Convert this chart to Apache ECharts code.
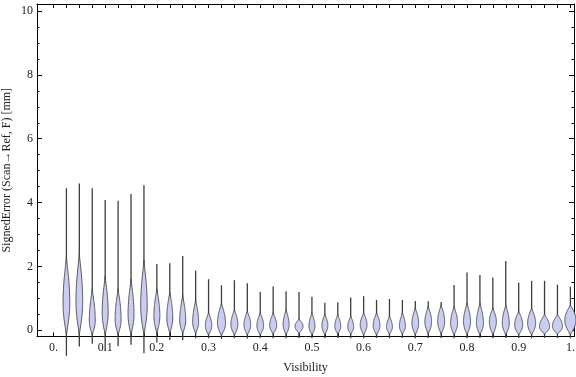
<!DOCTYPE html>
<html>
<head>
<meta charset="utf-8">
<script src="https://cdn.jsdelivr.net/npm/echarts@6/dist/echarts.min.js"></script>
<style>html,body{margin:0;padding:0;background:#fff;}#chart{width:576px;height:377px;}</style>
</head>
<body>
<div id="chart"></div>
<script>
// Violin positions (Visibility)
const positions = [0.025,0.05,0.075,0.1,0.125,0.15,0.175,0.2,0.225,0.25,0.275,0.3,0.325,0.35,0.375,0.4,0.425,0.45,0.475,0.5,0.525,0.55,0.575,0.6,0.625,0.65,0.675,0.7,0.725,0.75,0.775,0.8,0.825,0.85,0.875,0.9,0.925,0.95,0.975,1.0];
// Max / min of each distribution (tail ends)
const maxVals = [4.45,4.6,4.45,4.08,4.06,4.27,4.54,2.08,2.1,2.33,1.87,1.6,1.41,1.57,1.47,1.2,1.37,1.22,1.2,1.05,0.86,0.88,1.03,1.07,0.95,0.98,0.95,0.92,0.91,0.89,1.42,1.81,1.73,1.65,2.17,1.49,1.55,1.55,1.43,1.37];
const minVals = [-0.8,-0.51,-0.42,-0.65,-0.5,-0.45,-0.72,-0.38,-0.3,-0.3,-0.25,-0.25,-0.27,-0.25,-0.26,-0.24,-0.25,-0.25,-0.24,-0.25,-0.25,-0.24,-0.25,-0.25,-0.24,-0.25,-0.24,-0.25,-0.24,-0.24,-0.25,-0.25,-0.24,-0.25,-0.24,-0.24,-0.25,-0.24,-0.24,-0.25];
// Density body: lower end, mode, upper end, relative peak width
const bodyLo = [-0.15,-0.15,-0.15,-0.15,-0.15,-0.15,-0.15,-0.1,-0.1,-0.1,-0.1,-0.15,-0.17,-0.15,-0.15,-0.15,-0.12,-0.15,-0.1,-0.15,-0.15,-0.12,-0.12,-0.15,-0.15,-0.12,-0.12,-0.15,-0.12,-0.12,-0.15,-0.15,-0.15,-0.15,-0.15,-0.15,-0.15,-0.12,-0.12,-0.15];
const modeVals = [0.85,0.9,0.3,0.55,0.35,0.5,0.75,0.45,0.4,0.3,0.25,0.15,0.22,0.18,0.17,0.14,0.15,0.17,0.13,0.13,0.15,0.12,0.1,0.17,0.15,0.1,0.13,0.22,0.27,0.27,0.22,0.27,0.22,0.27,0.22,0.17,0.22,0.11,0.12,0.32];
const bodyHi = [2.3,2.4,1.3,1.7,1.3,1.6,2.2,1.3,1.2,1.1,0.95,0.55,0.85,0.65,0.6,0.55,0.55,0.65,0.35,0.55,0.5,0.5,0.45,0.55,0.55,0.45,0.55,0.7,0.75,0.8,0.75,0.85,0.85,0.7,0.8,0.6,0.7,0.5,0.5,0.8];
const peakWidth = [0.26,0.26,0.23,0.23,0.23,0.23,0.25,0.23,0.23,0.23,0.23,0.25,0.31,0.27,0.26,0.26,0.27,0.23,0.31,0.23,0.23,0.23,0.23,0.26,0.26,0.23,0.23,0.26,0.26,0.27,0.27,0.27,0.27,0.27,0.27,0.31,0.31,0.39,0.39,0.43];
// Axis tick labels
const xLabelValues = [0,0.1,0.2,0.3,0.4,0.5,0.6,0.7,0.8,0.9,1.0];
const yLabelValues = [0,2,4,6,8,10];

const xTicks = []; for (let k = 0; k <= 40; k++) xTicks.push(+(k*0.025).toFixed(3));
const yMinor = []; for (let k = 0; k <= 20; k++) yMinor.push(k*0.5);

const FONT = 'Liberation Serif';
const X_MIN = -0.0319, X_MAX = 1.007, Y_MIN = -0.194, Y_MAX = 10.22;

function renderItem(params, api) {
  const i = params.dataIndex;
  const x = api.value(0);
  const slot = api.size([0.025, 0])[0];
  const hw = peakWidth[i] * slot;
  const top = api.coord([x, maxVals[i]]);
  const bot = api.coord([x, minVals[i]]);
  const lo = bodyLo[i], md = modeVals[i], hi = bodyHi[i];
  const N = 40;
  const right = [], left = [];
  for (let k = 0; k <= N; k++) {
    const v = lo + (hi - lo) * k / N;
    const t = v <= md ? (md - v) / (md - lo) : (v - md) / (hi - md);
    const w = hw * Math.pow(Math.max(0, 1 - t * t), 1.25);
    const c = api.coord([x, v]);
    right.push([c[0] + w, c[1]]);
    left.push([c[0] - w, c[1]]);
  }
  const pts = right.concat(left.reverse());
  return {
    type: 'group',
    children: [
      { type: 'line', shape: { x1: top[0], y1: top[1], x2: bot[0], y2: bot[1] },
        style: { stroke: '#3d3d3d', lineWidth: 1.3 } },
      { type: 'polygon', shape: { points: pts },
        style: { fill: '#c9cdf2', stroke: '#4a4a4a', lineWidth: 0.9 } }
    ]
  };
}

const chart = echarts.init(document.getElementById('chart'), null, { renderer: 'canvas' });
const axisLineStyle = { show: true, onZero: false, lineStyle: { color: '#000', width: 1 } };
const noLine = { show: false, onZero: false };
chart.setOption({
  animation: false,
  backgroundColor: '#fff',
  grid: { left: 37, right: 2, top: 4, bottom: 40.5, containLabel: false, outerBoundsMode: 'none' },
  xAxis: [
    {
      type: 'value', position: 'bottom', min: X_MIN, max: X_MAX,
      axisLine: axisLineStyle, splitLine: { show: false },
      axisTick: { show: true, inside: true, length: 4, customValues: xTicks, lineStyle: { color: '#000' } },
      axisLabel: { show: true, margin: 5, customValues: xLabelValues, fontFamily: FONT, fontSize: 12, color: '#222',
        formatter: v => (Math.abs(v) < 1e-9 ? '0.' : (Math.abs(v - 1) < 1e-9 ? '1.' : v.toFixed(1))) },
      name: 'Visibility', nameLocation: 'middle', nameGap: 25.5, nameMoveOverlap: false,
      nameTextStyle: { fontFamily: FONT, fontSize: 12, color: '#222' }
    },
    {
      type: 'value', position: 'top', min: X_MIN, max: X_MAX,
      axisLine: axisLineStyle, splitLine: { show: false },
      axisTick: { show: true, inside: true, length: 4, customValues: xTicks, lineStyle: { color: '#000' } },
      axisLabel: { show: false }
    }
  ],
  yAxis: [
    {
      type: 'value', position: 'left', min: Y_MIN, max: Y_MAX,
      axisLine: axisLineStyle, splitLine: { show: false },
      axisTick: { show: true, inside: true, length: 5, customValues: yLabelValues, lineStyle: { color: '#000' } },
      axisLabel: { show: true, margin: 4, customValues: yLabelValues, fontFamily: FONT, fontSize: 12, color: '#222' },
      name: 'SignedError (Scan\u2192Ref, F) [mm]', nameLocation: 'middle', nameGap: 24, nameRotate: 90, nameMoveOverlap: false,
      nameTextStyle: { fontFamily: FONT, fontSize: 12, color: '#222' }
    },
    {
      type: 'value', position: 'left', min: Y_MIN, max: Y_MAX,
      axisLine: noLine, splitLine: { show: false },
      axisTick: { show: true, inside: true, length: 2.5, customValues: yMinor, lineStyle: { color: '#000' } },
      axisLabel: { show: false }
    },
    {
      type: 'value', position: 'right', min: Y_MIN, max: Y_MAX,
      axisLine: axisLineStyle, splitLine: { show: false },
      axisTick: { show: true, inside: true, length: 5, customValues: yLabelValues, lineStyle: { color: '#000' } },
      axisLabel: { show: false }
    },
    {
      type: 'value', position: 'right', min: Y_MIN, max: Y_MAX,
      axisLine: noLine, splitLine: { show: false },
      axisTick: { show: true, inside: true, length: 2.5, customValues: yMinor, lineStyle: { color: '#000' } },
      axisLabel: { show: false }
    }
  ],
  series: [{
    type: 'custom',
    xAxisIndex: 0, yAxisIndex: 0,
    clip: false,
    renderItem: renderItem,
    encode: { x: 0, y: [1, 2] },
    data: positions.map((p, i) => [p, maxVals[i], minVals[i]])
  }]
});
</script>
</body>
</html>
